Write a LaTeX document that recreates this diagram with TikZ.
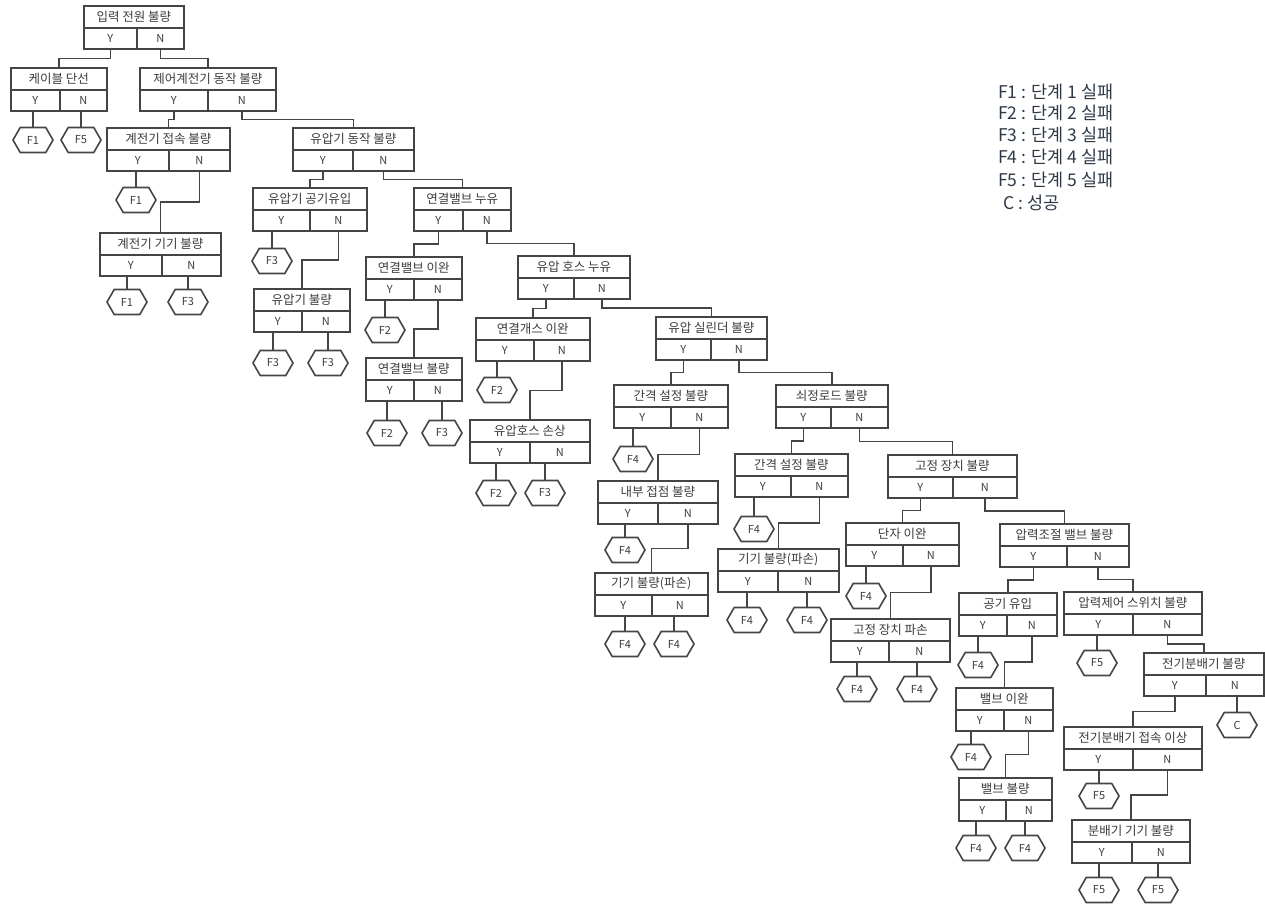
\documentclass[tikz,border=0pt]{standalone}
\usepackage{fontspec}
\setmainfont{Noto Sans CJK KR}
\usetikzlibrary{shapes.symbols,calc}
\definecolor{ln}{HTML}{454545}
\definecolor{tx}{HTML}{3C3C3C}
\definecolor{lg}{HTML}{2E3A48}
\tikzset{
 cellbase/.style={draw=ln, line width=1.6pt, inner sep=0pt, text=tx, anchor=north west},
 titlecell/.style={cellbase, minimum height=22pt, font=\fontsize{12.5}{13}\selectfont},
 yncell/.style={cellbase, minimum height=21pt, font=\fontsize{11}{12}\selectfont},
 leaf/.style={shape=signal, signal to=east and west, signal pointer angle=120, draw=ln, line width=1.6pt, minimum width=40pt, minimum height=25pt, inner sep=0pt, text=tx, font=\fontsize{11}{12}\selectfont},
 link/.style={draw=ln, line width=1.6pt},
 legendtext/.style={anchor=west, text=lg, inner sep=0pt, font=\fontsize{17.5}{19}\selectfont},
}
\newcommand\qbox[6]{%
 \node[titlecell, minimum width={(#4-#2)*1pt}] (#1) at (#2,#5) {#6};
 \node[yncell, minimum width={(#3-#2)*1pt}] (#1Y) at (#2,#5+22) {Y};
 \node[yncell, minimum width={(#4-#3)*1pt}] (#1N) at (#3,#5+22) {N};
}
\newcommand\conn[2]{\draw[link] (#1.south) |- ($(#1.south)!0.5!(#2.north)$) -| (#2.north);}
\newcommand\lf[5]{%
 \node[leaf] (#1) at (#2,#3) {#4};
 \draw[link] (#1.north) -- (#1.north |- #5.south);
}
\begin{document}
\begin{tikzpicture}[x=1pt,y=-1pt]
\useasboundingbox (0,0) rectangle (1265,903);
% boxes
\qbox{root}{83}{136}{183}{5}{입력 전원 불량}
\qbox{cab}{10}{59}{106}{67}{케이블 단선}
\qbox{ctl}{139}{207}{275}{67}{제어계전기 동작 불량}
\qbox{rc}{106}{168}{229}{127}{계전기 접속 불량}
\qbox{rd}{99}{161}{220}{232}{계전기 기기 불량}
\qbox{ho}{292}{352}{413}{127}{유압기 동작 불량}
\qbox{ha}{252}{309}{366}{187}{유압기 공기유입}
\qbox{hb}{253}{301}{349}{288}{유압기 불량}
\qbox{vl}{413}{462}{510}{187}{연결밸브 누유}
\qbox{vo}{365}{413}{461}{256}{연결밸브 이완}
\qbox{vb}{365}{413}{461}{357}{연결밸브 불량}
\qbox{hl}{517}{573}{629}{255}{유압 호스 누유}
\qbox{gs}{475}{533}{589}{317}{연결개스 이완}
\qbox{hd}{469}{529}{589}{419}{유압호스 손상}
\qbox{cy}{655}{710}{766}{316}{유압 실린더 불량}
\qbox{ga}{613}{670}{727}{384}{간격 설정 불량}
\qbox{ct}{597}{657}{717}{480}{내부 접점 불량}
\qbox{da}{594}{651}{707}{572}{기기 불량(파손)}
\qbox{rod}{775}{830}{887}{384}{쇠정로드 불량}
\qbox{gb}{734}{790}{847}{453}{간격 설정 불량}
\qbox{db}{717}{777}{838}{548}{기기 불량(파손)}
\qbox{fx}{887}{952}{1016}{454}{고정 장치 불량}
\qbox{tm}{845}{902}{958}{522}{단자 이완}
\qbox{fb}{830}{888}{949}{618}{고정 장치 파손}
\qbox{pv}{999}{1066}{1128}{523}{압력조절 밸브 불량}
\qbox{ai}{958}{1006}{1056}{592}{공기 유입}
\qbox{vi}{955}{1003}{1052}{687}{밸브 이완}
\qbox{vu}{958}{1005}{1051}{777}{밸브 불량}
\qbox{ps}{1063}{1132}{1201}{591}{압력제어 스위치 불량}
\qbox{ds}{1143}{1205}{1263}{652}{전기분배기 불량}
\qbox{dc}{1063}{1132}{1201}{726}{전기분배기 접속 이상}
\qbox{dd}{1071}{1131}{1189}{819}{분배기 기기 불량}
% branch connectors
\conn{rootY}{cab}
\conn{rootN}{ctl}
\conn{ctlY}{rc}
\conn{ctlN}{ho}
\conn{rcN}{rd}
\conn{hoY}{ha}
\conn{hoN}{vl}
\conn{haN}{hb}
\conn{vlY}{vo}
\conn{vlN}{hl}
\conn{voN}{vb}
\conn{hlY}{gs}
\conn{hlN}{cy}
\conn{gsN}{hd}
\conn{cyY}{ga}
\conn{cyN}{rod}
\conn{gaN}{ct}
\conn{ctN}{da}
\conn{rodY}{gb}
\conn{rodN}{fx}
\conn{gbN}{db}
\conn{fxY}{tm}
\conn{fxN}{pv}
\conn{tmN}{fb}
\conn{pvY}{ai}
\conn{pvN}{ps}
\conn{aiN}{vi}
\conn{viN}{vu}
\conn{psN}{ds}
\conn{dsY}{dc}
\conn{dcN}{dd}
% leaves
\lf{l1}{33}{140}{F1}{cabY}
\lf{l2}{81}{140}{F5}{cabN}
\lf{l3}{136}{200}{F1}{rcY}
\lf{l4}{127}{302}{F1}{rdY}
\lf{l5}{188}{302}{F3}{rdN}
\lf{l6}{272}{261}{F3}{haY}
\lf{l7}{273}{363}{F3}{hbY}
\lf{l8}{328}{363}{F3}{hbN}
\lf{l9}{385}{330}{F2}{voY}
\lf{l10}{387}{433}{F2}{vbY}
\lf{l11}{442}{433}{F3}{vbN}
\lf{l12}{497}{390}{F2}{gsY}
\lf{l13}{496}{493}{F2}{hdY}
\lf{l14}{545}{493}{F3}{hdN}
\lf{l15}{633}{459}{F4}{gaY}
\lf{l16}{625}{550}{F4}{ctY}
\lf{l17}{625}{644}{F4}{daY}
\lf{l18}{674}{644}{F4}{daN}
\lf{l19}{754}{529}{F4}{gbY}
\lf{l20}{747}{620}{F4}{dbY}
\lf{l21}{807}{620}{F4}{dbN}
\lf{l22}{866}{596}{F4}{tmY}
\lf{l23}{857}{689}{F4}{fbY}
\lf{l24}{917}{689}{F4}{fbN}
\lf{l25}{978}{665}{F4}{aiY}
\lf{l26}{971}{757}{F4}{viY}
\lf{l27}{976}{848}{F4}{vuY}
\lf{l28}{1025}{848}{F4}{vuN}
\lf{l29}{1097}{663}{F5}{psY}
\lf{l30}{1237}{725}{C}{dsN}
\lf{l31}{1099}{796}{F5}{dcY}
\lf{l32}{1099}{890}{F5}{ddY}
\lf{l33}{1158}{890}{F5}{ddN}
% legend
\node[legendtext] (g1) at (998,92) {F1 : 단계 1 실패};
\node[legendtext] (g2) at (998,113) {F2 : 단계 2 실패};
\node[legendtext] (g3) at (998,135) {F3 : 단계 3 실패};
\node[legendtext] (g4) at (998,157) {F4 : 단계 4 실패};
\node[legendtext] (g5) at (998,180) {F5 : 단계 5 실패};
\node[legendtext] (g6) at (1003,203) {C : 성공};
\end{tikzpicture}
\end{document}
